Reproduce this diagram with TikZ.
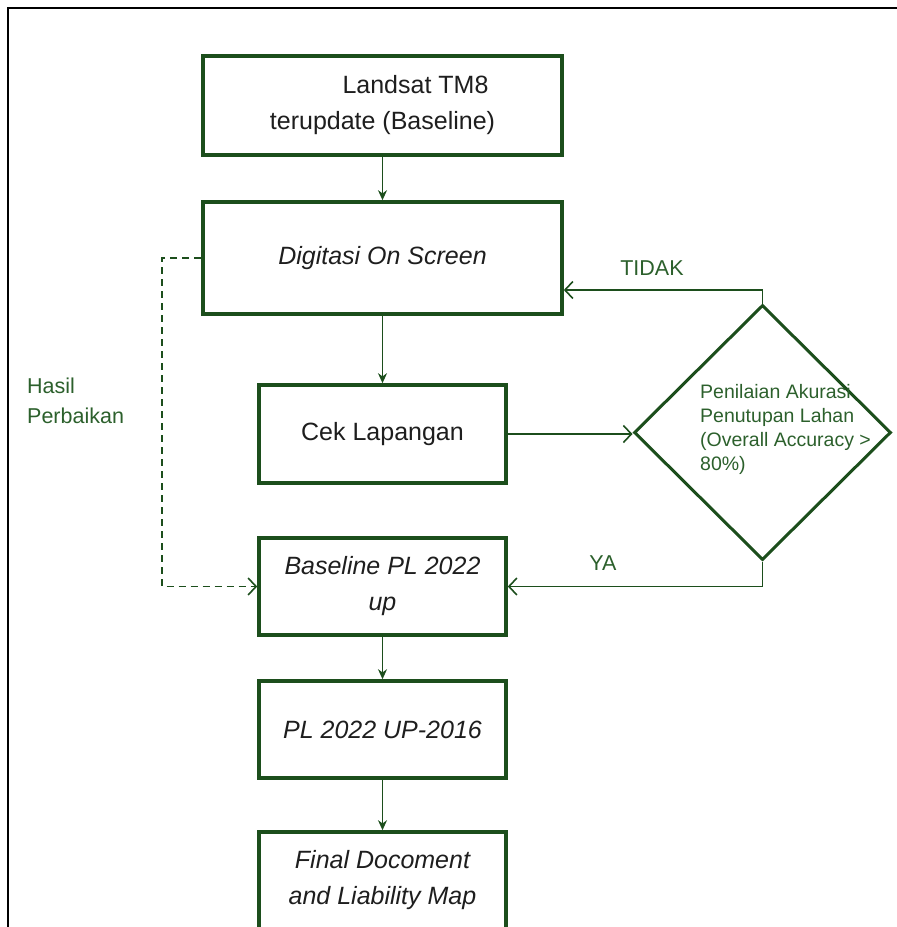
\documentclass[tikz,border=0pt]{standalone}
\usepackage{fontspec}
\setmainfont{Liberation Sans}
\usetikzlibrary{shapes.geometric, arrows.meta, positioning}
\definecolor{flowgreen}{RGB}{28,78,28}
\definecolor{lblgreen}{RGB}{44,96,44}
\definecolor{txtgray}{RGB}{30,30,30}

\begin{document}
\begin{tikzpicture}[x=1pt, y=-1pt,
  box/.style={draw=flowgreen, line width=3.6pt, fill=white, align=center,
    text=txtgray, font=\fontsize{25}{36}\selectfont, inner sep=0pt},
  decision/.style={draw=flowgreen, line width=3pt, diamond, inner sep=0pt,
    minimum width=257pt, minimum height=255pt},
  lbl/.style={text=lblgreen, font=\fontsize{21.5}{30}\selectfont, inner sep=0pt, align=left},
  link/.style={draw=flowgreen, line width=1.6pt, -{Stealth[length=10pt, width=9pt]}},
  hlink/.style={draw=flowgreen, line width=1.6pt, -{Straight Barb[length=8pt, width=17pt]}}
]
  \useasboundingbox (0,0) rectangle (897,927);

  %% OUTER FRAME (cut off at right and bottom)
  \draw[black, line width=2.6pt] (8,940) -- (8,8) -- (910,8);

  %% MAIN COLUMN
  \node[box, minimum width=359pt, minimum height=99pt] (landsat) at (382.5,105.5)
    {\raisebox{5pt}{\hspace*{66pt}Landsat TM8}\\\raisebox{5pt}{terupdate (Baseline)}};
  \node[box, minimum width=359pt, minimum height=112pt] (digit) at (382.5,258)
    {\itshape Digitasi On Screen};
  \node[box, minimum width=247pt, minimum height=98pt] (cek) at (382.5,434)
    {Cek Lapangan};
  \node[box, minimum width=247pt, minimum height=97pt] (base) at (382.5,586.5)
    {\itshape Baseline PL 2022\\\itshape up};
  \node[box, minimum width=247pt, minimum height=97pt] (plup) at (382.5,729.5)
    {\itshape PL 2022 UP-2016};
  \node[box, minimum width=247pt, minimum height=97pt] (final) at (382.5,880.5)
    {\itshape Final Docoment\\\itshape and Liability Map};

  %% DECISION
  \node[decision] (dec) at (762.5,432.5) {};
  \node[text=lblgreen, font=\fontsize{19.5}{24}\selectfont, align=left,
    inner sep=0pt, anchor=west] (dectext) at (700,429)
    {Penilaian Akurasi\\Penutupan Lahan\\(Overall Accuracy >\\80\%)};

  %% LABELS
  \node[lbl] (lbltidak) at (652,268) {TIDAK};
  \node[lbl] (lblya) at (603,563) {YA};
  \node[lbl, anchor=west] (lblhasil) at (27,401) {Hasil\\Perbaikan};

  %% CONNECTORS
  \draw[link] (landsat) -- (digit);
  \draw[link] (digit) -- (cek);
  \draw[hlink] (cek.east) -- (cek.east -| dec.west);
  \draw[hlink] (dec.north) |- ([yshift=-32pt]digit.east);
  \draw[hlink] (dec.south) |- (base.east);
  \draw[hlink, dashed, dash pattern=on 7pt off 5pt] (digit.west) -- ++(-39,0) |- (base.west);
  \draw[link] (base) -- (plup);
  \draw[link] (plup) -- (final);

\end{tikzpicture}
\end{document}
